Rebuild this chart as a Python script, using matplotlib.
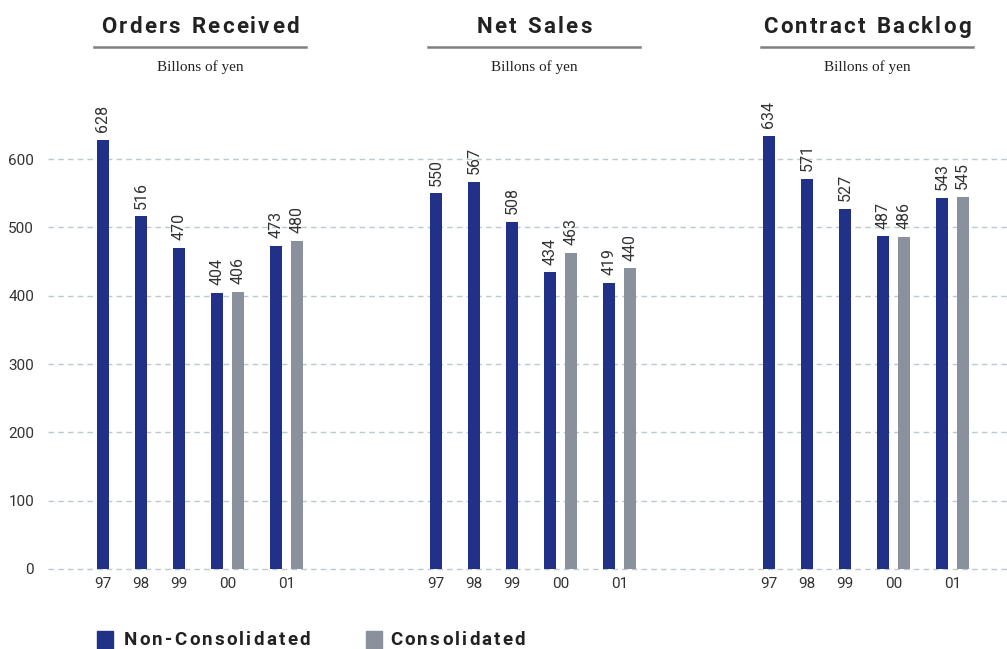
import matplotlib
matplotlib.use("Agg")
from matplotlib import pyplot as plt
from matplotlib.patches import Rectangle
import numpy as np

# %%
titles = ["Orders Received", "Net Sales", "Contract Backlog"]
years = ["97", "98", "99", "00", "01"]
non_consolidated = [
    [628, 516, 470, 404, 473],
    [550, 567, 508, 434, 419],
    [634, 571, 527, 487, 543],
]
consolidated = [
    [406, 480],
    [463, 440],
    [486, 545],
]
yticks = [0, 100, 200, 300, 400, 500, 600]

navy = "#213187"
grey = "#8a909c"
text_col = "#333333"
thin = dict(family="Roboto", fontweight="normal")

W, H = 1007, 649
fig = plt.figure(figsize=(W / 100, H / 100), dpi=100)
renderer = fig.canvas.get_renderer()


def fx(px):
    return px / W


def fy(py):
    return 1 - py / H


def spaced_text(x, y, s, track, ha="center", **kw):
    # draw text one char at a time with extra letter spacing (pixels)
    arts, widths = [], []
    for ch in s:
        t = fig.text(0, 0, ch if ch != " " else "n", **kw)
        w = t.get_window_extent(renderer).width
        if ch == " ":
            w *= 0.55
            t.set_text("")
        arts.append(t)
        widths.append(w)
    total = sum(widths) + track * (len(s) - 1)
    start = x - total / 2 if ha == "center" else x
    pos = start
    for t, w in zip(arts, widths):
        t.set_position((fx(pos), fy(y)))
        t.set_ha("left")
        pos += w + track


# axes in pixel layout: left 48, zero line at y=569, 100 units = 68.3 px
ymin, ymax = -8, 680
unit = 68.33 / 100
bottom_px = 569 + (-ymin) * unit
top_px = 569 - ymax * unit
ax = fig.add_axes([fx(48), fy(bottom_px), 1 - fx(48), (bottom_px - top_px) / H])

step = 38.0
x0 = 103.0
xmin, xmax = (48 - x0) / step, (W - x0) / step
group_off = 333 / step
nc_pos = np.array([0, 1, 2, 3, 4.55])
c_pos = np.array([3.55, 5.1])
bw = 12 / step

for g in range(3):
    xs = nc_pos + g * group_off
    xc = c_pos + g * group_off
    ax.bar(xs, non_consolidated[g], width=bw, color=navy, zorder=3)
    ax.bar(xc, consolidated[g], width=bw, color=grey, zorder=3)
    for x, v in list(zip(xs, non_consolidated[g])) + list(zip(xc, consolidated[g])):
        ax.text(x, v + 11, str(v), rotation=90, ha="center", va="bottom",
                fontsize=11.5, color=text_col, **thin)
    label_x = [0, 1, 2, 3.275, 4.825]
    for x, yl in zip(label_x, years):
        ax.text(x + g * group_off, -12, yl, ha="center", va="top",
                fontsize=11, color=text_col, **thin)

ax.set_xlim(xmin, xmax)
ax.set_ylim(ymin, ymax)
ax.set_yticks(yticks)
ax.set_yticklabels([str(t) for t in yticks], fontsize=11, color=text_col, **thin)
ax.tick_params(axis="y", length=0, pad=10)
ax.set_xticks([])
for s in ax.spines.values():
    s.set_visible(False)
ax.yaxis.grid(True, color="#bccacf", linestyle=(0, (4, 3)), linewidth=1)
ax.set_axisbelow(True)

# titles with underline
centers = [200, 534, 867]
for c, t in zip(centers, titles):
    spaced_text(c, 27, t, 2.2, va="center", fontsize=16, fontweight="bold",
                family="Roboto", color="#222222")
    fig.add_artist(plt.Line2D([fx(c - 106), fx(c + 106)], [fy(47), fy(47)],
                              color="#808080", linewidth=1.8))
    fig.text(fx(c), fy(67), "Billons of yen", ha="center", va="center",
             fontsize=11, color="#222222", fontfamily="Liberation Serif")

# legend
for x_sq, x_txt, lab, col in [(97, 124, "Non-Consolidated", navy),
                              (366, 390, "Consolidated", grey)]:
    fig.add_artist(Rectangle((fx(x_sq), fy(649)), 16 / W, 18 / H, color=col,
                             transform=fig.transFigure))
    spaced_text(x_txt, 640, lab, 2.2, ha="left", va="center", fontsize=13.5,
                fontweight="bold", family="Roboto", color="#222222")

fig.savefig("out.png", dpi=100)
